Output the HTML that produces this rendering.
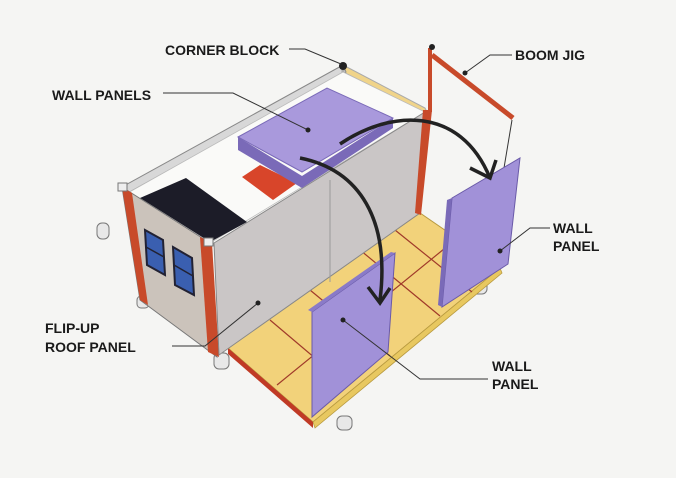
<!DOCTYPE html>
<html><head><style>
html,body{margin:0;padding:0;background:#f5f5f3;}
svg{display:block}
text{font-family:"Liberation Sans",sans-serif;font-size:14px;font-weight:bold;fill:#1a1a1a;}
</style></head><body>
<svg width="676" height="478" viewBox="0 0 676 478">
<rect width="676" height="478" fill="#f5f5f3"/>
<!-- feet -->
<g fill="#e8e8e8" stroke="#777" stroke-width="1">
<rect x="97" y="223" width="12" height="16" rx="5"/>
<rect x="214" y="353" width="15" height="16" rx="5"/>
<rect x="337" y="416" width="15" height="14" rx="5"/>
<rect x="472" y="278" width="15" height="16" rx="5"/>
<rect x="137" y="296" width="12" height="12" rx="4"/>
</g>
<!-- floor -->
<polygon points="228,348 313,422 500,268 420,213" fill="#f2d27a" stroke="#b89a40"/>
<polygon points="313,422 500,268 502,273 315,428" fill="#e8c860" stroke="#b89a40" stroke-width="0.8"/>
<polygon points="228,348 313,422 313,428 228,354" fill="#c03a25"/>
<g stroke="#a03a2a" stroke-width="1.2">
<line x1="270" y1="320" x2="348" y2="386"/>
<line x1="310" y1="290" x2="390" y2="356"/>
<line x1="360" y1="250" x2="440" y2="316"/>
<line x1="395" y1="230" x2="472" y2="292"/>
<line x1="277" y1="385" x2="455" y2="240"/>
</g>
<!-- top frame back -->
<polygon points="343,65 425,108 428,114 343,72" fill="#f0d48a" stroke="#aaa"/>
<polygon points="122,187 343,65 346,72 126,194" fill="#d8d8d8" stroke="#888"/>
<line x1="343" y1="70" x2="343" y2="100" stroke="#aaa" stroke-width="3"/>
<!-- interior -->
<polygon points="126,194 343,72 425,112 210,243" fill="#fafaf8" stroke="#bbb" stroke-width="0.8"/>
<!-- black panel -->
<polygon points="140,198 186,178 247,222 210,242" fill="#1c1c28"/>
<!-- red panel -->
<polygon points="242,177 260,165 297,183 273,200" fill="#d8452a"/>
<!-- end face -->
<polygon points="122,187 210,243 217,357 140,300" fill="#cbc3bb" stroke="#777"/>
<polygon points="122,187 132,193 148,305 140,300" fill="#c84a2a"/>
<polygon points="200,237 212,243 219,357 208,352" fill="#c84a2a"/>
<polygon points="145,230 163,240 165,275 147,265" fill="#3a5fb0" stroke="#223" stroke-width="2"/>
<polygon points="173,247 192,258 194,295 175,285" fill="#3a5fb0" stroke="#223" stroke-width="2"/>
<line x1="146" y1="247" x2="164" y2="257" stroke="#223" stroke-width="1.5"/>
<line x1="174" y1="265" x2="193" y2="276" stroke="#223" stroke-width="1.5"/>
<!-- gray long wall -->
<polygon points="214,243 425,112 420,213 219,355" fill="#cac6c6" stroke="#888"/>
<line x1="330" y1="180" x2="330" y2="282" stroke="#999"/>
<!-- purple stack (in front of wall top) -->
<polygon points="238,137 238,150 302,188 393,128 393,118 302,176" fill="#7a6ab8"/>
<polygon points="238,137 327,88 393,118 302,172" fill="#a999dc" stroke="#7a6ab8"/>
<!-- corner blocks -->
<rect x="118" y="183" width="9" height="8" fill="#eee" stroke="#777"/>
<rect x="204" y="238" width="9" height="8" fill="#eee" stroke="#777"/>
<circle cx="343" cy="66" r="4" fill="#222"/>
<!-- red post -->
<polygon points="423,110 432,110 421,215 415,213" fill="#c84a2a"/>
<!-- boom jig -->
<line x1="430" y1="48" x2="430" y2="112" stroke="#c84a2a" stroke-width="4"/>
<line x1="432" y1="55" x2="513" y2="118" stroke="#c84a2a" stroke-width="5"/>
<circle cx="432" cy="47" r="3" fill="#222"/>
<line x1="512" y1="120" x2="494" y2="228" stroke="#333" stroke-width="1"/>
<!-- right wall panel -->
<polygon points="452,198 520,158 508,264 442,307" fill="#a191d8" stroke="#6a5aa8"/>
<polygon points="442,307 452,198 447,200 438,305" fill="#7a6ab8"/>
<!-- front wall panel -->
<polygon points="312,312 395,253 388,352 312,417" fill="#a191d8" stroke="#6a5aa8"/>
<polygon points="312,312 395,253 391,252 308,310" fill="#8a7ac8"/>
<!-- arrows -->
<path d="M340,144 C390,110 460,105 490,178" fill="none" stroke="#222" stroke-width="3.5"/>
<polyline points="470,168 490,178 496,160" fill="none" stroke="#222" stroke-width="3.5"/>
<path d="M300,158 C360,170 390,220 380,300" fill="none" stroke="#222" stroke-width="3.5"/>
<polyline points="368,287 380,303 390,288" fill="none" stroke="#222" stroke-width="3.5"/>
<!-- leader lines & dots -->
<g stroke="#333" stroke-width="1" fill="none">
<polyline points="289,49 305,49 341,64"/>
<polyline points="163,93 233,93 308,130"/>
<polyline points="512,55 490,55 465,73"/>
<polyline points="550,228 530,228 500,251"/>
<polyline points="172,346 205,346 258,303"/>
<polyline points="488,379 420,379 343,320"/>
</g>
<g fill="#222">
<circle cx="308" cy="130" r="2.5"/><circle cx="465" cy="73" r="2.5"/>
<circle cx="500" cy="251" r="2.5"/><circle cx="258" cy="303" r="2.5"/>
<circle cx="343" cy="320" r="2.5"/>
</g>
<!-- labels -->
<text x="165" y="55">CORNER BLOCK</text>
<text x="52" y="100">WALL PANELS</text>
<text x="515" y="60">BOOM JIG</text>
<text x="553" y="233">WALL</text>
<text x="553" y="251">PANEL</text>
<text x="45" y="333">FLIP-UP</text>
<text x="45" y="352">ROOF PANEL</text>
<text x="492" y="371">WALL</text>
<text x="492" y="389">PANEL</text>
</svg>
</body></html>
